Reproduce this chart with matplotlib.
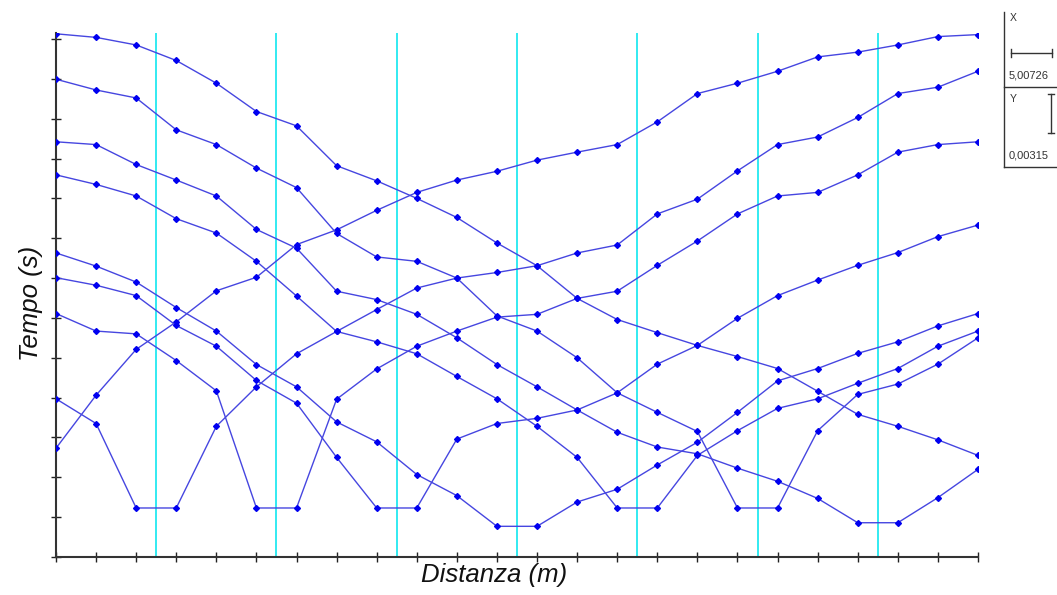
import matplotlib
matplotlib.use("Agg")
import matplotlib.pyplot as plt
from matplotlib.lines import Line2D

plt.rcParams['font.family'] = ['Liberation Sans', 'DejaVu Sans']

# Distance of each geophone (m)
distanza = [0, 5, 10, 15, 20, 25, 30, 35, 40, 45, 50, 55,
            60, 65, 70, 75, 80, 85, 90, 95, 100, 105, 110, 115]
# Shot positions (cyan lines)
tiri = [12.5, 27.5, 42.5, 57.5, 72.5, 87.5, 102.5]

# Travel times (units of the Y scale bar, 1 unit = 0.00315 s)
tempo_ext_sx = [2.73, 4.06, 5.21, 5.90, 6.68, 7.02, 7.84, 8.21, 8.70, 9.15, 9.46, 9.68,
                9.96, 10.16, 10.35, 10.92, 11.63, 11.89, 12.19, 12.55, 12.67, 12.85, 13.06, 13.11]
tempo_ext_dx = [13.13, 13.04, 12.85, 12.46, 11.89, 11.18, 10.82, 9.82, 9.44, 9.00, 8.52, 7.88,
                7.31, 6.49, 5.96, 5.63, 5.31, 5.03, 4.73, 4.16, 3.58, 3.28, 2.94, 2.55]
tempo_t1 = [3.97, 3.35, 1.23, 1.23, 3.28, 4.27, 5.10, 5.66, 6.21, 6.75, 7.00, 7.14,
            7.31, 7.63, 7.83, 8.61, 8.98, 9.69, 10.35, 10.54, 11.03, 11.63, 11.79, 12.19]
tempo_t2 = [6.11, 5.67, 5.60, 4.93, 4.17, 1.23, 1.23, 3.96, 4.72, 5.29, 5.67, 6.02,
            6.09, 6.49, 6.67, 7.32, 7.93, 8.61, 9.06, 9.15, 9.59, 10.16, 10.35, 10.42]
tempo_t3 = [7.01, 6.82, 6.56, 5.81, 5.29, 4.43, 3.86, 2.50, 1.23, 1.23, 2.96, 3.35,
            3.48, 3.69, 4.12, 4.84, 5.31, 5.99, 6.56, 6.95, 7.32, 7.64, 8.04, 8.33]
tempo_t4 = [7.63, 7.30, 6.90, 6.26, 5.67, 4.83, 4.27, 3.39, 2.89, 2.07, 1.54, 0.77,
            0.77, 1.38, 1.70, 2.31, 2.88, 3.63, 4.42, 4.73, 5.11, 5.40, 5.80, 6.11]
tempo_t5 = [9.59, 9.35, 9.06, 8.49, 8.13, 7.42, 6.55, 5.66, 5.40, 5.10, 4.53, 3.97,
            3.28, 2.50, 1.23, 1.23, 2.55, 3.17, 3.73, 3.97, 4.36, 4.73, 5.29, 5.67]
tempo_t6 = [10.42, 10.35, 9.85, 9.46, 9.06, 8.22, 7.75, 6.67, 6.46, 6.09, 5.50, 4.83,
            4.27, 3.69, 3.13, 2.76, 2.59, 2.23, 1.90, 1.47, 0.86, 0.86, 1.49, 2.20]
tempo_t7 = [11.99, 11.72, 11.52, 10.72, 10.35, 9.76, 9.27, 8.12, 7.53, 7.42, 7.00, 6.05,
            5.67, 5.00, 4.12, 3.63, 3.15, 1.23, 1.23, 3.17, 4.08, 4.34, 4.84, 5.50]

serie = [tempo_ext_sx, tempo_ext_dx, tempo_t1, tempo_t2, tempo_t3,
         tempo_t4, tempo_t5, tempo_t6, tempo_t7]

scala_x = "5,00726"
scala_y = "0,00315"

W, H = 1057, 595
fig = plt.figure(figsize=(W / 100, H / 100), dpi=100)
ax = fig.add_axes([56 / W, 1 - 557 / H, (978 - 56) / W, (557 - 33) / H])

for x in tiri:
    ax.axvline(x, color='#22e8f0', lw=1.3, zorder=1)

for s in serie:
    ax.plot(distanza, s, color='#4646e0', lw=1.0, marker='D', markersize=3.0,
            markerfacecolor='#0000f0', markeredgecolor='#0000f0', zorder=3)

ax.set_xlim(0, 115)
ax.set_ylim(0, 13.15)
ax.set_xticks(distanza)
ax.set_yticks(range(0, 14))
ax.tick_params(direction='inout', length=7, width=1.0, color='#222222',
               labelbottom=False, labelleft=False)
for side in ('top', 'right'):
    ax.spines[side].set_visible(False)
for side in ('left', 'bottom'):
    ax.spines[side].set_color('#333333')
    ax.spines[side].set_linewidth(1.5)

fig.text(494 / W, 1 - 575 / H, "Distanza (m)", fontsize=18.5, style='italic',
         ha='center', va='center', color='#111111')
fig.text(31 / W, 1 - 303 / H, "Tempo (s)", fontsize=18.5, style='italic',
         rotation=90, ha='center', va='center', color='#111111')

# scale legend box
def fl(x0, y0, x1, y1, lw=1.0):
    fig.add_artist(Line2D([x0 / W, x1 / W], [1 - y0 / H, 1 - y1 / H],
                          color='#333333', lw=lw))

fl(1004, 12, 1004, 167)
fl(1004, 167, 1057, 167)
fl(1004, 87, 1057, 87)
fl(1011, 53, 1052, 53)
fl(1011, 49, 1011, 57)
fl(1052, 49, 1052, 57)
fl(1051, 94, 1051, 133)
fl(1048, 94, 1054, 94)
fl(1048, 133, 1054, 133)
fig.text(1010 / W, 1 - 18 / H, "X", fontsize=7.5, ha='left', va='center', color='#333333')
fig.text(1009 / W, 1 - 76 / H, scala_x, fontsize=8, ha='left', va='center', color='#333333')
fig.text(1010 / W, 1 - 99 / H, "Y", fontsize=7.5, ha='left', va='center', color='#333333')
fig.text(1009 / W, 1 - 156 / H, scala_y, fontsize=8, ha='left', va='center', color='#333333')

fig.savefig("out.png", dpi=100, facecolor='white')
